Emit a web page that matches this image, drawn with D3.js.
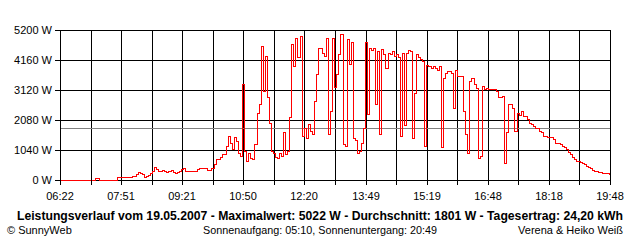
<!DOCTYPE html>
<html>
<head>
<meta charset="utf-8">
<script src="https://cdn.jsdelivr.net/npm/d3@7"></script>
<style>
  body { margin: 0; background: #fff; }
  svg { display: block; font-family: "Liberation Sans", Arial, sans-serif; font-size: 11px; }
</style>
</head>
<body>
<svg id="chart" width="640" height="240"></svg>
<script>
// time axis: first and last label, one reading every 3 minutes
const startTime = "06:22";
const endTime = "19:48";
const stepMinutes = 3;
const xLabels = ["06:22", "07:51", "09:21", "10:50", "12:20", "13:49", "15:19", "16:48", "18:18", "19:48"];
const yTicks = [0, 1040, 2080, 3120, 4160, 5200];
const average = 1801;

// Leistung in W
const power = [
  0, 0, 0, 0, 0, 0, 0, 0, 0, 0, 0, 0, 0, 0, 0, 0, 0, 70, 70,
  0, 0, 0, 0, 0, 0, 0, 0, 0,
  110, 110, 110, 110, 110, 115, 115, 130, 150, 200,
  280, 250, 200, 120, 130, 190, 250, 300, 440, 380,
  300, 320, 360, 300, 280, 300, 330, 280, 250, 270,
  300, 380, 400, 310, 300, 300, 300, 300, 310, 380,
  420, 430, 430, 420, 350, 340, 420, 550, 720, 720,
  800, 900, 900, 1185, 1530, 1300, 1070, 1500, 1360, 950,
  840, 3320, 1000, 650, 950, 780, 720, 1240, 2340, 2630,
  4650, 3100, 4305, 2860, 1990, 1010, 950, 800, 780, 950,
  840, 1650, 900, 1000, 2170, 4710, 3960, 4940, 4250, 5000,
  1530, 1820, 1470, 1935, 1700, 1590, 2745, 3670, 4590, 4590,
  4420, 4305, 4940, 1590, 2400, 4940, 3210, 3670, 4360, 5050,
  1240, 1185, 4880, 4015, 4770, 1470, 1400, 950, 1000, 1300,
  1820, 4770, 2285, 4590, 4500, 4590, 2630, 4480, 1590, 4530,
  4360, 3900, 4400, 4360, 4480, 4300, 4360, 4250, 1520, 4420,
  1920, 4420, 4500, 4480, 1470, 3000, 4360, 4250, 4200, 4140,
  1180, 4000, 3950, 3900, 3950, 3900, 3800, 3950, 1130, 3550,
  3700, 3780, 3780, 3700, 2510, 3800, 3610, 3610, 3610, 2400,
  1590, 950, 3440, 3550, 3320, 3200, 780, 840, 3260, 3150,
  3200, 3150, 3150, 3170, 3150, 3100, 2860, 2860, 2900, 606,
  1650, 2630, 2630, 2513, 1705, 2340, 2260, 2397, 2224, 2224,
  2108, 1993, 1935, 1878, 1820, 1820, 1705, 1647, 1530, 1530,
  1497, 1474, 1474, 1416, 1300, 1300, 1243, 1185, 1127, 1070,
  955, 897, 782, 724, 667, 660, 640, 575, 551, 494,
  459, 413, 343, 320, 297, 263, 263, 240, 228, 228,
  205
];

const title = "Leistungsverlauf vom 19.05.2007 - Maximalwert: 5022 W - Durchschnitt: 1801 W - Tagesertrag: 24,20 kWh";
const footLeft = "\u00A9 SunnyWeb";
const footMid = "Sonnenaufgang: 05:10, Sonnenuntergang: 20:49";
const footRight = "Verena & Heiko Wei\u00DF";

const toMin = s => { const [h, m] = s.split(":").map(Number); return h * 60 + m; };
const t0 = toMin(startTime), t1 = toMin(endTime);

const plotLeft = 60, plotRight = 610, plotTop = 30, plotBottom = 180;
const svg = d3.select("#chart");

const x = d3.scaleLinear().domain([t0, t1]).range([plotLeft, plotRight]);
const y = d3.scaleLinear().domain([0, 5200]).range([plotBottom, plotTop]);

// 18 grid steps, a label on every second one
const gridMinutes = d3.range(19).map(k => t0 + k * (t1 - t0) / 18);
const px = d => Math.round(x(d)) + 0.5;

// grid
const grid = svg.append("g").attr("shape-rendering", "crispEdges");
grid.selectAll("line.v")
  .data(gridMinutes)
  .join("line")
  .attr("class", "v")
  .attr("x1", px).attr("x2", px)
  .attr("y1", plotTop).attr("y2", plotBottom + 1)
  .attr("stroke", "#000");
grid.selectAll("line.h")
  .data(yTicks)
  .join("line")
  .attr("class", "h")
  .attr("x1", plotLeft).attr("x2", plotRight + 1)
  .attr("y1", d => y(d) + 0.5).attr("y2", d => y(d) + 0.5)
  .attr("stroke", "#000");

// average line
svg.append("line")
  .attr("x1", plotLeft + 1).attr("x2", plotRight)
  .attr("y1", Math.round(y(average)) + 0.5).attr("y2", Math.round(y(average)) + 0.5)
  .attr("stroke", "#808080")
  .attr("shape-rendering", "crispEdges");

// power line
const line = d3.line()
  .x((d, i) => Math.round(x(t0 + i * stepMinutes)) + 0.5)
  .y(d => Math.round(y(d)) + 0.5)
  .curve(d3.curveStepAfter);

svg.append("path")
  .datum(power)
  .attr("d", line)
  .attr("fill", "none")
  .attr("stroke", "#ff0000")
  .attr("stroke-width", 1)
  .attr("shape-rendering", "crispEdges");

// axes
const xAxis = svg.append("g")
  .attr("transform", `translate(0,${plotBottom})`)
  .call(d3.axisBottom(x)
    .tickValues(gridMinutes)
    .tickSize(5).tickSizeOuter(0).tickPadding(7)
    .tickFormat((d, i) => i % 2 === 0 ? xLabels[i / 2] : ""));
xAxis.select(".domain").remove();
xAxis.selectAll(".tick").attr("transform", d => `translate(${Math.round(x(d))},0)`);

const yAxis = svg.append("g")
  .attr("transform", `translate(${plotLeft},0)`)
  .call(d3.axisLeft(y)
    .tickValues(yTicks)
    .tickSize(5).tickSizeOuter(0).tickPadding(3)
    .tickFormat(d => d + " W"));
yAxis.select(".domain").remove();

svg.selectAll(".tick text")
  .attr("font-family", "Liberation Sans, Arial, sans-serif")
  .attr("font-size", 11)
  .attr("fill", "#000");
svg.selectAll(".tick line").attr("shape-rendering", "crispEdges");

// texts below
svg.append("text")
  .attr("x", 17).attr("y", 220)
  .attr("font-weight", "bold")
  .attr("font-size", 12)
  .attr("textLength", 606)
  .attr("lengthAdjust", "spacingAndGlyphs")
  .text(title);

svg.append("text").attr("x", 7).attr("y", 234).text(footLeft);
svg.append("text").attr("x", 203).attr("y", 234)
  .attr("textLength", 234).attr("lengthAdjust", "spacingAndGlyphs")
  .text(footMid);
svg.append("text").attr("x", 623).attr("y", 234)
  .attr("text-anchor", "end")
  .text(footRight);
</script>
</body>
</html>
